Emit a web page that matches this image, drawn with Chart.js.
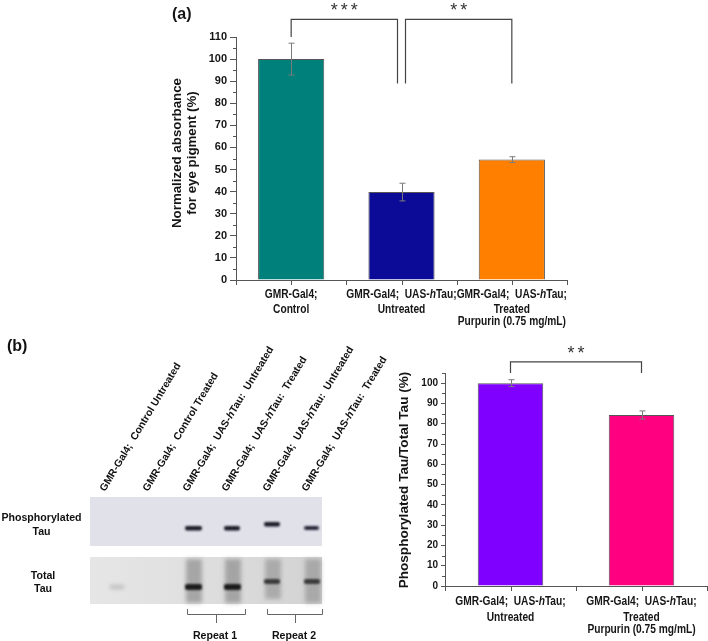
<!DOCTYPE html>
<html>
<head>
<meta charset="utf-8">
<script src="https://cdn.jsdelivr.net/npm/chart.js@4.4.0/dist/chart.umd.min.js"></script>
<style>
body { margin:0; background:#fff; width:708px; height:641px; position:relative; overflow:hidden; }
#eyeChart { position:absolute; left:0; top:0; }
#tauChart { position:absolute; left:0; top:330px; }
#blot { position:absolute; left:0; top:0; }
#blot text { white-space:pre; }
</style>
</head>
<body>
<canvas id="eyeChart" width="708" height="330"></canvas>
<canvas id="tauChart" width="708" height="311"></canvas>
<svg id="blot" width="708" height="641" viewBox="0 0 708 641">
  <defs>
    <filter id="soft" x="-50%" y="-200%" width="200%" height="500%"><feGaussianBlur stdDeviation="0.9"/></filter>
    <filter id="smear" x="-50%" y="-50%" width="200%" height="200%"><feGaussianBlur stdDeviation="2.2"/></filter>
    <linearGradient id="totBg" x1="0" x2="1" y1="0" y2="0">
      <stop offset="0" stop-color="#e6e6e6"/>
      <stop offset="0.4" stop-color="#e0e0e0"/>
      <stop offset="1" stop-color="#d2d2d2"/>
    </linearGradient>
  </defs>
  <text x="7" y="351" font-family="Liberation Sans" font-weight="bold" font-size="16" fill="#111">(b)</text>
  <g font-family="Liberation Sans" font-weight="bold" font-size="10.4" fill="#111">
    <text transform="translate(105,492) rotate(-59)">GMR-Gal4;  Control Untreated</text>
    <text transform="translate(148,492) rotate(-59)">GMR-Gal4;  Control Treated</text>
    <text transform="translate(188,492) rotate(-59)">GMR-Gal4;  UAS-<tspan font-style="italic">h</tspan>Tau:  Untreated</text>
    <text transform="translate(227,492) rotate(-59)">GMR-Gal4;  UAS-<tspan font-style="italic">h</tspan>Tau:  Treated</text>
    <text transform="translate(268,492) rotate(-59)">GMR-Gal4;  UAS-<tspan font-style="italic">h</tspan>Tau:  Untreated</text>
    <text transform="translate(307,492) rotate(-59)">GMR-Gal4;  UAS-<tspan font-style="italic">h</tspan>Tau:  Treated</text>
  </g>
  <g font-family="Liberation Sans" font-weight="bold" font-size="10.6" fill="#111" text-anchor="middle">
    <text x="41.5" y="521">Phosphorylated</text>
    <text x="41.5" y="535">Tau</text>
    <text x="43" y="579">Total</text>
    <text x="43" y="592">Tau</text>
    <text x="215" y="639">Repeat 1</text>
    <text x="294" y="639">Repeat 2</text>
  </g>
  <!-- phospho panel -->
  <rect x="90" y="497" width="232" height="49" fill="#e1e1ea"/>
  <g filter="url(#soft)" fill="#1b1b28">
    <rect x="185" y="526" width="17" height="4.5" rx="2"/>
    <rect x="224" y="526" width="16" height="4.5" rx="2"/>
    <rect x="264" y="522" width="16" height="4.5" rx="2"/>
    <rect x="304" y="526" width="15" height="4" rx="2" fill="#2a2a3a"/>
  </g>
  <!-- total panel -->
  <rect x="90" y="557" width="232" height="47" fill="url(#totBg)"/>
  <g filter="url(#smear)">
    <rect x="186" y="559" width="16" height="44" fill="#808080" opacity="0.6"/>
    <rect x="225" y="559" width="16" height="44" fill="#808080" opacity="0.6"/>
    <rect x="265" y="559" width="16" height="40" fill="#808080" opacity="0.5"/>
    <rect x="305" y="559" width="16" height="44" fill="#808080" opacity="0.5"/>
    <rect x="110" y="585" width="14" height="4" fill="#b0b0b0" opacity="0.8"/>
  </g>
  <g filter="url(#soft)" fill="#1e1e1e">
    <rect x="185" y="584" width="17" height="6" rx="2"/>
    <rect x="224" y="584" width="17" height="6" rx="2"/>
    <rect x="264" y="579" width="16" height="5" rx="2" fill="#3a3a3a"/>
    <rect x="304" y="579" width="16" height="5" rx="2" fill="#3a3a3a"/>
  </g>
  <!-- repeat brackets -->
  <g stroke="#666" stroke-width="1" fill="none">
    <path d="M187.5 609 L187.5 614.5 L245.5 614.5 L245.5 609 M216.5 614.5 L216.5 623"/>
    <path d="M267.5 609 L267.5 614.5 L322.5 614.5 L322.5 609 M295.5 614.5 L295.5 623"/>
  </g>
</svg>
<script>
// panel (a): eye pigment
let eyeLabels = [["GMR-Gal4;", "Control"], ["GMR-Gal4;  UAS-hTau;", "Untreated"], ["GMR-Gal4;  UAS-hTau;", "Treated", "Purpurin (0.75 mg/mL)"]];
let eyeValues = [100, 39.8, 54.5];
let eyeErrors = [7.2, 4.0, 1.3];
let eyeColors = ['#00807a', '#0b0b98', '#ff8000'];
let eyeTicks = [0, 10, 20, 30, 40, 50, 60, 70, 80, 90, 100, 110];
let eyeBrackets = [
    { from: 0, to: 1, top: 118, leftEnd: 110, rightEnd: 89, stars: 3 },
    { from: 1, to: 2, top: 118, leftEnd: 89, rightEnd: 89, stars: 2 }
];

// panel (b): phosphorylated tau
let tauLabels = [["GMR-Gal4;  UAS-hTau;", "Untreated"], ["GMR-Gal4;  UAS-hTau;", "Treated", "Purpurin (0.75 mg/mL)"]];
let tauValues = [100, 84.3];
let tauErrors = [1.7, 2.0];
let tauColors = ['#8000ff', '#ff0080'];
let tauTicks = [0, 10, 20, 30, 40, 50, 60, 70, 80, 90, 100];
let tauBrackets = [
    { from: 0, to: 1, top: 110.5, leftEnd: 105, rightEnd: 105, stars: 2 }
];

let axisColor = '#555';
let textColor = '#151515';
let sans = '"Liberation Sans", Arial, sans-serif';

// category labels use a horizontally squeezed bold face, with an italic "h" in hTau
function drawLabelLine(ctx, text, cx, cy, size) {
    let normal = 'bold ' + size + 'px ' + sans;
    let italic = 'italic bold ' + size + 'px ' + sans;
    let parts;
    let k = text.indexOf('UAS-h');
    if (k >= 0) {
        parts = [[text.slice(0, k + 4), normal], ['h', italic], [text.slice(k + 5), normal]];
    } else {
        parts = [[text, normal]];
    }
    let total = 0;
    parts.forEach(p => { ctx.font = p[1]; p.push(ctx.measureText(p[0]).width); total += p[2]; });
    ctx.save();
    ctx.translate(cx, cy);
    ctx.scale(0.85, 1);
    let x = -total / 2;
    ctx.textAlign = 'left';
    ctx.textBaseline = 'middle';
    parts.forEach(p => { ctx.font = p[1]; ctx.fillText(p[0], x, 0); x += p[2]; });
    ctx.restore();
}

function makeChart(canvas, o) {
    let extras = {
        id: 'extras',
        afterDatasetsDraw(chart) {
            let ctx = chart.ctx;
            let xs = chart.scales.x, ys = chart.scales.y;
            ctx.save();
            ctx.strokeStyle = axisColor;
            ctx.lineWidth = 1;

            // minor y ticks
            for (let v = 5; v <= o.max; v += 10) {
                let py = Math.round(ys.getPixelForValue(v)) + 0.5;
                ctx.beginPath();
                ctx.moveTo(xs.left - 3, py);
                ctx.lineTo(xs.left, py);
                ctx.stroke();
            }
            // x ticks at centers and category boundaries
            for (let i = -0.5; i <= o.labels.length - 0.5; i += 0.5) {
                let px = Math.round(xs.getPixelForValue(i)) + 0.5;
                ctx.beginPath();
                ctx.moveTo(px, ys.bottom);
                ctx.lineTo(px, ys.bottom + 5);
                ctx.stroke();
            }

            // error bars
            ctx.strokeStyle = '#7a7a7a';
            o.values.forEach((v, i) => {
                let px = Math.round(xs.getPixelForValue(i)) + 0.5;
                let t = ys.getPixelForValue(v + o.errors[i]);
                let b = ys.getPixelForValue(v - o.errors[i]);
                ctx.beginPath();
                ctx.moveTo(px, t); ctx.lineTo(px, b);
                ctx.moveTo(px - 3, t); ctx.lineTo(px + 3, t);
                ctx.moveTo(px - 3, b); ctx.lineTo(px + 3, b);
                ctx.stroke();
            });

            // significance brackets
            ctx.strokeStyle = '#444';
            ctx.lineWidth = 1.2;
            o.brackets.forEach((br, n) => {
                let gap = o.brackets.length > 1 ? 4 : 0;
                let x1 = xs.getPixelForValue(br.from) + (n > 0 ? gap : 0);
                let x2 = xs.getPixelForValue(br.to) - (n < o.brackets.length - 1 ? gap : 0);
                let yt = ys.getPixelForValue(br.top);
                ctx.beginPath();
                ctx.moveTo(x1, ys.getPixelForValue(br.leftEnd));
                ctx.lineTo(x1, yt);
                ctx.lineTo(x2, yt);
                ctx.lineTo(x2, ys.getPixelForValue(br.rightEnd));
                ctx.stroke();
                ctx.fillStyle = '#333';
                ctx.font = '18px ' + sans;
                ctx.textAlign = 'center';
                ctx.textBaseline = 'alphabetic';
                let cx = (x1 + x2) / 2;
                for (let s = 0; s < br.stars; s++) {
                    ctx.fillText('*', cx + (s - (br.stars - 1) / 2) * 10, yt - 3);
                }
            });

            // x category labels
            ctx.fillStyle = textColor;
            o.labels.forEach((lines, i) => {
                let px = xs.getPixelForValue(i);
                lines.forEach((line, j) => {
                    drawLabelLine(ctx, line, px, ys.bottom + o.labelOffsets[j], o.labelSize);
                });
            });

            // y title
            ctx.save();
            ctx.translate(o.titleX, o.titleY);
            ctx.rotate(-Math.PI / 2);
            ctx.font = 'bold ' + o.titleSize + 'px ' + sans;
            ctx.textAlign = 'center';
            ctx.textBaseline = 'middle';
            o.title.forEach((t, j) => ctx.fillText(t, 0, j * o.titleGap));
            ctx.restore();

            // panel letter
            if (o.letter) {
                ctx.font = 'bold 16px ' + sans;
                ctx.textAlign = 'left';
                ctx.textBaseline = 'alphabetic';
                ctx.fillText(o.letter, o.letterX, o.letterY);
            }
            ctx.restore();
        }
    };

    return new Chart(canvas, {
        type: 'bar',
        data: {
            labels: o.labels.map(l => l.join(' ')),
            datasets: [{
                data: o.values,
                backgroundColor: o.colors,
                borderColor: '#555',
                borderWidth: 1,
                barPercentage: 1,
                categoryPercentage: o.barFrac
            }]
        },
        options: {
            responsive: false,
            animation: false,
            layout: { padding: o.padding },
            plugins: { legend: { display: false }, tooltip: { enabled: false } },
            scales: {
                x: {
                    offset: true,
                    afterFit: s => { s.height = o.xHeight; },
                    grid: { display: false },
                    border: { display: true, color: axisColor, width: 1 },
                    ticks: { display: false }
                },
                y: {
                    min: 0,
                    max: o.max,
                    afterBuildTicks: s => { s.ticks = o.ticks.map(v => ({ value: v })); },
                    afterFit: s => { s.width = 60; },
                    border: { display: true, color: axisColor, width: 1 },
                    grid: { drawOnChartArea: false, tickLength: o.tickLen, color: axisColor },
                    ticks: {
                        color: textColor,
                        padding: 3,
                        font: { family: sans, size: o.tickSize, weight: 'bold' }
                    }
                }
            }
        },
        plugins: [extras]
    });
}

makeChart(document.getElementById('eyeChart'), {
    labels: eyeLabels, values: eyeValues, errors: eyeErrors, colors: eyeColors,
    ticks: eyeTicks, brackets: eyeBrackets, max: 110, barFrac: 0.6,
    padding: { left: 176, right: 141, top: 37, bottom: 5 }, xHeight: 45,
    tickLen: 6, tickSize: 11, labelSize: 12, labelOffsets: [15, 30, 42],
    title: ['Normalized absorbance', 'for eye pigment (%)'], titleX: 177, titleY: 153, titleGap: 15.5, titleSize: 13.3,
    letter: '(a)', letterX: 172, letterY: 19
});

makeChart(document.getElementById('tauChart'), {
    labels: tauLabels, values: tauValues, errors: tauErrors, colors: tauColors,
    ticks: tauTicks, brackets: tauBrackets, max: 105, barFrac: 0.5,
    padding: { left: 385, right: 1, top: 43, bottom: 5 }, xHeight: 50,
    tickLen: 4, tickSize: 10, labelSize: 12, labelOffsets: [16, 32, 44],
    title: ['Phosphorylated Tau/Total Tau (%)'], titleX: 404, titleY: 150, titleGap: 0, titleSize: 13.6
});
</script>
</body>
</html>
